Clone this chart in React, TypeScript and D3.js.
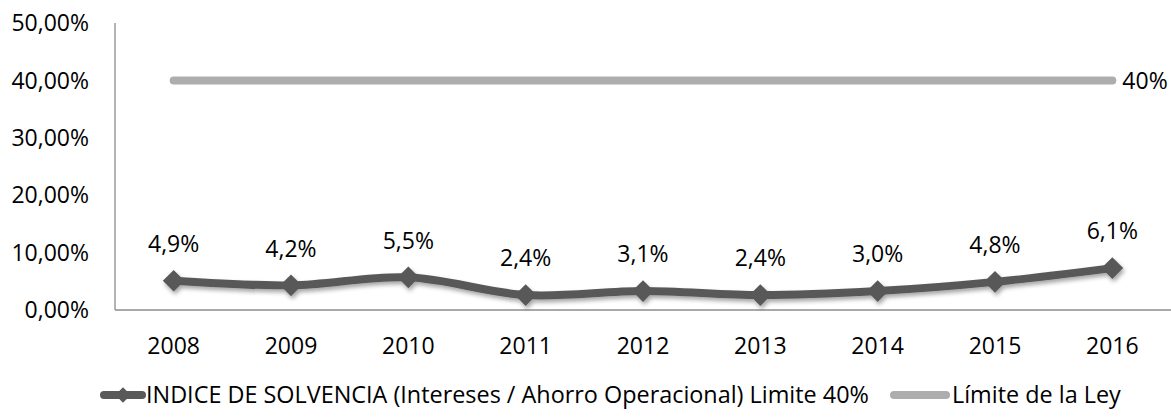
import React, { useRef, useEffect } from "react";
import * as d3 from "d3";

const years = ["2008", "2009", "2010", "2011", "2012", "2013", "2014", "2015", "2016"];
// plotted positions (%)
const solvencia = [5.1, 4.3, 5.7, 2.6, 3.3, 2.6, 3.3, 4.9, 7.3];
// data label texts as printed
const solvenciaLabels = ["4,9%", "4,2%", "5,5%", "2,4%", "3,1%", "2,4%", "3,0%", "4,8%", "6,1%"];
const limite = [40, 40, 40, 40, 40, 40, 40, 40, 40];
const yTicks = [0, 10, 20, 30, 40, 50];
const seriesNames = ["INDICE DE SOLVENCIA (Intereses / Ahorro Operacional) Limite 40%", "Límite de la Ley"];

const W = 1171;
const H = 420;
const FONT = "'Open Sans', sans-serif";

function App() {
    const svgRef = useRef<SVGSVGElement>(null);

    useEffect(() => {
        const svg = d3.select(svgRef.current);
        svg.selectAll("*").remove();

        const margin = { top: 23, right: 0, bottom: 110, left: 115 };

        const x = d3.scaleBand().domain(years).range([margin.left, W - margin.right]);
        const y = d3.scaleLinear().domain([0, 50]).range([H - margin.bottom, margin.top]);
        const cx = (d: string) => (x(d) as number) + x.bandwidth() / 2;

        // drop shadow for the main series
        const defs = svg.append("defs");
        const f = defs.append("filter").attr("id", "shadow").attr("x", "-20%").attr("y", "-50%").attr("width", "140%").attr("height", "200%");
        f.append("feDropShadow").attr("dx", 1.5).attr("dy", 3).attr("stdDeviation", 2).attr("flood-color", "#000").attr("flood-opacity", 0.35);

        // axes
        svg.append("line")
            .attr("x1", margin.left).attr("x2", margin.left)
            .attr("y1", y(50)).attr("y2", y(0))
            .attr("stroke", "#8c8c8c").attr("stroke-width", 1.3);
        svg.append("line")
            .attr("x1", margin.left).attr("x2", W - margin.right)
            .attr("y1", y(0)).attr("y2", y(0))
            .attr("stroke", "#8c8c8c").attr("stroke-width", 1.3);

        svg.append("g").selectAll("text").data(yTicks).join("text")
            .attr("x", 89).attr("y", (d) => y(d))
            .attr("dy", "0.36em")
            .attr("text-anchor", "end")
            .attr("font-family", FONT).attr("font-size", 23).attr("fill", "#000")
            .text((d) => d3.format(".2f")(d).replace(".", ",") + "%");

        svg.append("g").selectAll("text").data(years).join("text")
            .attr("x", (d) => cx(d)).attr("y", y(0) + 36)
            .attr("dy", "0.36em")
            .attr("text-anchor", "middle")
            .attr("font-family", FONT).attr("font-size", 23).attr("fill", "#000")
            .text((d) => d);

        // limit line
        const lineGen = d3.line<number>()
            .x((d, i) => cx(years[i]))
            .y((d) => y(d));
        svg.append("path")
            .datum(limite)
            .attr("d", lineGen)
            .attr("fill", "none").attr("stroke", "#adadad")
            .attr("stroke-width", 8).attr("stroke-linecap", "round");
        svg.append("text")
            .attr("x", cx(years[years.length - 1]) + 10).attr("y", y(limite[limite.length - 1]))
            .attr("dy", "0.36em")
            .attr("font-family", FONT).attr("font-size", 23).attr("fill", "#000")
            .text("40%");

        // main series
        const smooth = d3.line<number>()
            .x((d, i) => cx(years[i]))
            .y((d) => y(d))
            .curve(d3.curveCatmullRom.alpha(0.5));
        const g = svg.append("g").attr("filter", "url(#shadow)");
        g.append("path")
            .datum(solvencia)
            .attr("d", smooth)
            .attr("fill", "none").attr("stroke", "#595959")
            .attr("stroke-width", 8).attr("stroke-linecap", "round").attr("stroke-linejoin", "round");
        const diamond = d3.symbol().type(d3.symbolDiamond2).size(300);
        g.selectAll("path.m").data(solvencia).join("path")
            .attr("class", "m")
            .attr("d", diamond)
            .attr("transform", (d, i) => `translate(${cx(years[i])},${y(d)})`)
            .attr("fill", "#595959");

        svg.append("g").selectAll("text").data(solvencia).join("text")
            .attr("x", (d, i) => cx(years[i])).attr("y", (d) => y(d) - 37)
            .attr("dy", "0.36em")
            .attr("text-anchor", "middle")
            .attr("font-family", FONT).attr("font-size", 23).attr("fill", "#000")
            .text((d, i) => solvenciaLabels[i]);

        // legend
        const ly = 395;
        const lg = svg.append("g");
        lg.append("line")
            .attr("x1", 104).attr("x2", 142).attr("y1", ly).attr("y2", ly)
            .attr("stroke", "#595959").attr("stroke-width", 8).attr("stroke-linecap", "round");
        lg.append("path")
            .attr("d", d3.symbol().type(d3.symbolDiamond2).size(150))
            .attr("transform", `translate(123,${ly})`)
            .attr("fill", "#595959");
        lg.append("text")
            .attr("x", 146).attr("y", ly).attr("dy", "0.36em")
            .attr("font-family", FONT).attr("font-size", 23.4).attr("fill", "#000")
            .text(seriesNames[0]);
        lg.append("line")
            .attr("x1", 894).attr("x2", 946).attr("y1", ly).attr("y2", ly)
            .attr("stroke", "#adadad").attr("stroke-width", 8).attr("stroke-linecap", "round");
        lg.append("text")
            .attr("x", 952).attr("y", ly).attr("dy", "0.36em")
            .attr("font-family", FONT).attr("font-size", 23.4).attr("fill", "#000")
            .text(seriesNames[1]);
    }, []);

    return (
        <svg
            ref={svgRef}
            width={W}
            height={H}
            style={{ position: "absolute", left: 0, top: 0, background: "#fff" }}
        ></svg>
    );
}

export default App;
